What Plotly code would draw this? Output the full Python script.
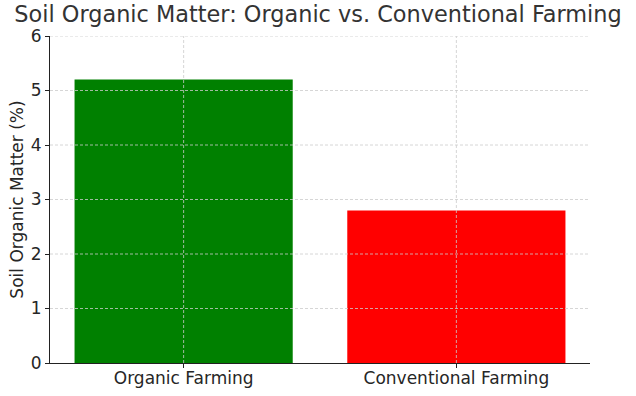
import plotly.graph_objects as go

categories = ["Organic Farming", "Conventional Farming"]
values = [5.2, 2.8]
colors = ["#008000", "#ff0000"]
y_ticks = [0, 1, 2, 3, 4, 5, 6]
x_ticks = [0, 1]

FONT = "DejaVu Sans"
TXT = "#262626"
GRID = "#cccccc"
DASH = "3px,2px"

fig = go.Figure(go.Bar(
    x=x_ticks, y=values, width=0.8,
    marker=dict(color=colors, line=dict(width=0)),
))

# dashed grid drawn above the bars (as in the reference)
for yv in y_ticks[1:]:
    fig.add_shape(type="line", xref="paper", yref="y", x0=0, x1=1, y0=yv, y1=yv,
                  line=dict(color=GRID, width=0.8, dash=DASH), layer="above")
for xv in x_ticks:
    fig.add_shape(type="line", xref="x", yref="paper", x0=xv, x1=xv, y0=0, y1=1,
                  line=dict(color=GRID, width=0.8, dash=DASH), layer="above")

fig.update_layout(
    width=636, height=396,
    margin=dict(l=50, r=46, t=36, b=33),
    paper_bgcolor="white", plot_bgcolor="white",
    font=dict(family=FONT, size=17, color=TXT),
    title=dict(text="Soil Organic Matter: Organic vs. Conventional Farming",
               x=0.5, xanchor="center", y=0.985, yanchor="top",
               font=dict(family=FONT, size=22.4, color="#333333")),
    showlegend=False,
)
fig.update_xaxes(
    range=[-0.49, 1.49], tickvals=x_ticks, ticktext=categories,
    showgrid=False, automargin=False,
    showline=True, linecolor="#222222", linewidth=1.2, mirror=False,
    ticks="outside", ticklen=4, tickcolor="#222222",
    ticklabelstandoff=-5,
    layer="above traces", zeroline=False,
    tickfont=dict(size=17, color=TXT),
)
fig.update_yaxes(
    range=[0, 6], tickvals=y_ticks,
    showgrid=False, automargin=False,
    showline=True, linecolor="#222222", linewidth=1.2, mirror=False,
    ticks="outside", ticklen=4, tickcolor="#222222",
    layer="above traces", zeroline=False,
    title=dict(text="Soil Organic Matter (%)", font=dict(size=17, color=TXT), standoff=2),
    tickfont=dict(size=17, color=TXT),
)

fig.write_html("out.html", config={"displayModeBar": False},
               post_script="document.body.style.margin='0';document.body.style.overflow='hidden';")
